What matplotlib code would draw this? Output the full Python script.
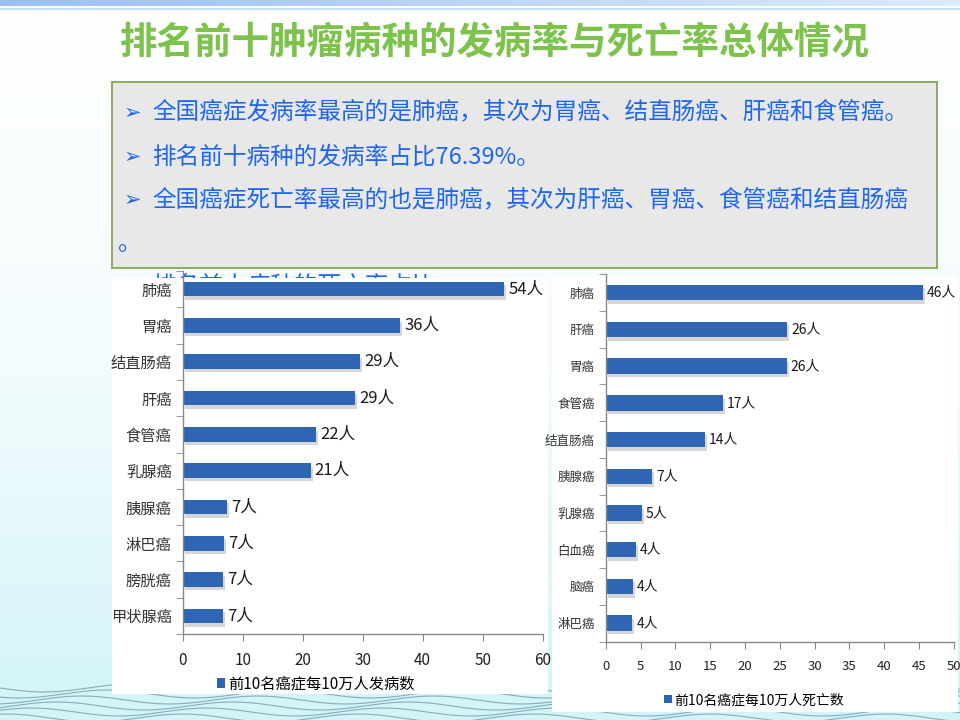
import numpy as np
import matplotlib
matplotlib.use("Agg")
import matplotlib.pyplot as plt
import matplotlib.patheffects as pe
from matplotlib.patches import Rectangle, Patch
from matplotlib.colors import LinearSegmentedColormap

plt.rcParams['font.family'] = ['Noto Sans CJK SC', 'DejaVu Sans']

# ---------------- data ----------------
inc_categories = ["肺癌", "胃癌", "结直肠癌", "肝癌", "食管癌", "乳腺癌", "胰腺癌", "淋巴癌", "膀胱癌", "甲状腺癌"]
inc_values = [53.6, 36.2, 29.5, 28.7, 22.2, 21.3, 7.4, 6.8, 6.7, 6.7]
inc_labels = ["54人", "36人", "29人", "29人", "22人", "21人", "7人", "7人", "7人", "7人"]
inc_ticks = [0, 10, 20, 30, 40, 50, 60]
inc_legend = "前10名癌症每10万人发病数"

mort_categories = ["肺癌", "肝癌", "胃癌", "食管癌", "结直肠癌", "胰腺癌", "乳腺癌", "白血癌", "脑癌", "淋巴癌"]
mort_values = [45.6, 26.1, 26.0, 16.8, 14.2, 6.7, 5.2, 4.3, 3.9, 3.8]
mort_labels = ["46人", "26人", "26人", "17人", "14人", "7人", "5人", "4人", "4人", "4人"]
mort_ticks = [0, 5, 10, 15, 20, 25, 30, 35, 40, 45, 50]
mort_legend = "前10名癌症每10万人死亡数"

title = "排名前十肿瘤病种的发病率与死亡率总体情况"
bullets = [
    "全国癌症发病率最高的是肺癌，其次为胃癌、结直肠癌、肝癌和食管癌。",
    "排名前十病种的发病率占比76.39%。",
    "全国癌症死亡率最高的也是肺癌，其次为肝癌、胃癌、食管癌和结直肠癌",
]
hidden_line = "排名前十病种的死亡率占比"

BAR = "#2F66B4"
TXT_BLUE = "#1F66EE"

fig = plt.figure(figsize=(9.6, 7.2), dpi=100)

# ---------------- background (pixel coordinates) ----------------
bg = fig.add_axes([0, 0, 1, 1])
bg.set_xlim(0, 960)
bg.set_ylim(720, 0)
bg.axis("off")
grad = np.linspace(0, 1, 256).reshape(-1, 1)
cm = LinearSegmentedColormap.from_list("bgc", ["#FFFFFF", "#F4FCFD", "#D2F4F8"])
bg.imshow(grad, cmap=cm, extent=[0, 960, 720, 0], aspect="auto", zorder=0)
# top band
topc = LinearSegmentedColormap.from_list("topc", ["#9CC0EE", "#DCEBFA"])
bg.imshow(np.linspace(0, 1, 64).reshape(1, -1), cmap=topc, extent=[0, 960, 6, 0], aspect="auto", zorder=1)
bg.plot([0, 960], [9, 9], color="#C9DDF2", lw=1.5, zorder=1)
# decorative waves at the bottom
xs = np.linspace(0, 960, 800)
for k in range(6):
    bg.plot(xs, 688 + k * 6 + 4 * np.sin(xs / 28.0 + k * 0.9), color="#86AEB5", lw=0.8, zorder=1)

# text box
bg.add_patch(Rectangle((112, 82), 825, 186, facecolor="#E8E8E8", edgecolor="#80A856", lw=1.3, zorder=2))
bg.text(495, 42, title, color="#7DC24B", fontsize=27, fontweight="bold", ha="center", va="center", zorder=3)
line_y = [113, 157, 200]
for yy, s in zip(line_y, bullets):
    bg.text(124, yy, "➢", color=TXT_BLUE, fontsize=15, ha="left", va="center",
            family=["DejaVu Sans"], zorder=3)
    bg.text(152, yy, s, color=TXT_BLUE, fontsize=17, ha="left", va="center", zorder=3)
bg.text(118, 243, "。", color=TXT_BLUE, fontsize=17, ha="left", va="center", zorder=3)
bg.text(152, 286, hidden_line, color=TXT_BLUE, fontsize=17, ha="left", va="center", zorder=2)

# chart panels
bg.add_patch(Rectangle((112, 278), 436, 416, facecolor="white", edgecolor="none", zorder=4))
bg.add_patch(Rectangle((552, 276), 406, 436, facecolor="white", edgecolor="none", zorder=4))


def draw_chart(rect, cats, vals, labels, ticks, legend_text, legend_pos, cat_fs, val_fs, tick_fs, leg_fs, bar_h):
    ax = fig.add_axes(rect)
    ax.set_facecolor("none")
    ax.set_zorder(5)
    y = np.arange(len(cats))
    bars = ax.barh(y, vals, height=bar_h, color=BAR, edgecolor="none")
    for b in bars:
        b.set_path_effects([pe.SimplePatchShadow(offset=(1.5, -2.5), shadow_rgbFace="#8A8A8A", alpha=0.35), pe.Normal()])
    for yi, v, lab in zip(y, vals, labels):
        ax.annotate(lab, (v, yi), xytext=(3, 0), textcoords="offset points",
                    va="center", ha="left", fontsize=val_fs, color="#1A1A1A")
    ax.set_ylim(len(cats) - 0.5, -0.5)
    ax.set_xlim(ticks[0], ticks[-1])
    ax.set_xticks(ticks)
    ax.set_xticklabels([str(t) for t in ticks], fontsize=tick_fs, color="#222222")
    ax.set_yticks(y)
    ax.set_yticklabels(cats, fontsize=cat_fs, color="#333333")
    ax.set_yticks(np.arange(len(cats) + 1) - 0.5, minor=True)
    ax.tick_params(axis="y", which="major", length=0, pad=8)
    ax.tick_params(axis="y", which="minor", length=5, color="#888888", direction="out")
    ax.tick_params(axis="x", which="major", length=5, color="#888888", direction="out", pad=8)
    for side in ("top", "right"):
        ax.spines[side].set_visible(False)
    for side in ("left", "bottom"):
        ax.spines[side].set_color("#888888")
        ax.spines[side].set_linewidth(1.0)
    fig.legend(handles=[Patch(facecolor=BAR, label=legend_text)], loc="center",
               bbox_to_anchor=legend_pos, bbox_transform=fig.transFigure, frameon=False,
               fontsize=leg_fs, handlelength=0.55, handleheight=0.55, handletextpad=0.2)
    return ax


draw_chart([182.7 / 960, 1 - 634 / 720, 360 / 960, 363 / 720],
           inc_categories, inc_values, inc_labels, inc_ticks, inc_legend,
           (316 / 960, 1 - 684 / 720), 11, 12, 11, 11, 0.4)
draw_chart([605.7 / 960, 1 - 641.5 / 720, 348 / 960, 367.2 / 720],
           mort_categories, mort_values, mort_labels, mort_ticks, mort_legend,
           (754 / 960, 1 - 700 / 720), 9, 10, 9.5, 10, 0.42)

fig.savefig("out.png", dpi=100)
